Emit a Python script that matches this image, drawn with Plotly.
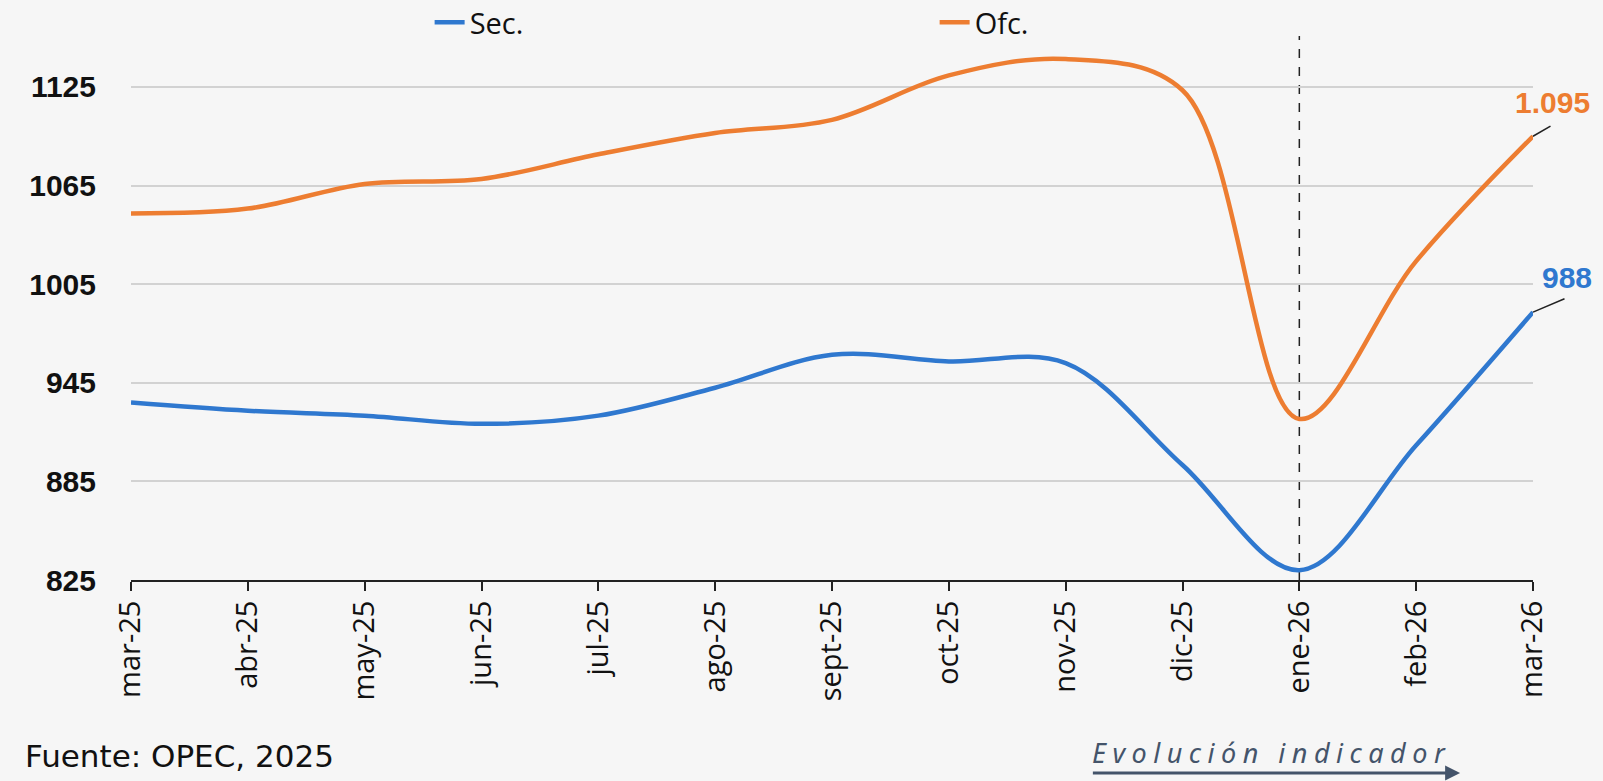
import plotly.graph_objects as go

months = ["mar-25", "abr-25", "may-25", "jun-25", "jul-25", "ago-25", "sept-25",
          "oct-25", "nov-25", "dic-25", "ene-26", "feb-26", "mar-26"]
sec = [933, 928, 925, 920, 925, 942, 962, 958, 957, 895, 831, 907, 988]
ofc = [1048, 1051, 1066, 1069, 1084, 1097, 1105, 1132, 1142, 1123, 923, 1019, 1095]
y_ticks = [825, 885, 945, 1005, 1065, 1125]

BLUE = "#2f78cf"
ORANGE = "#ed7d31"

fig = go.Figure()
fig.add_trace(go.Scatter(x=months, y=sec, name="Sec.", mode="lines",
                         line=dict(color=BLUE, width=4.5, shape="spline", smoothing=1)))
fig.add_trace(go.Scatter(x=months, y=ofc, name="Ofc.", mode="lines",
                         line=dict(color=ORANGE, width=4.5, shape="spline", smoothing=1)))

# dashed vertical marker
fig.add_shape(type="line", xref="x", yref="paper", x0=months[10], x1=months[10],
              y0=0, y1=1, line=dict(color="#222222", width=1.5, dash="dash"), layer="below")

# end labels: leader lines + value texts
for val, col, txt, lead, shift in [
    (ofc[-1], ORANGE, "<b>1.095</b>", (19, -11), (19, 34)),
    (sec[-1], BLUE, "<b>988</b>", (33, -14), (34, 35)),
]:
    fig.add_annotation(x=months[-1], y=val, text="", showarrow=True, arrowhead=0,
                       arrowwidth=1.5, arrowcolor="#222222", ax=lead[0], ay=lead[1])
    fig.add_annotation(x=months[-1], y=val, text=txt, showarrow=False,
                       xshift=shift[0], yshift=shift[1],
                       font=dict(family="Liberation Sans", size=30, color=col))

# footer texts
fig.add_annotation(xref="paper", yref="paper", x=-0.077, y=-0.324, xanchor="left", yanchor="middle",
                   text="Fuente: OPEC, 2025", showarrow=False,
                   font=dict(family="DejaVu Sans", size=31, color="#111111"))
fig.add_annotation(xref="paper", yref="paper", x=0.684, y=-0.318, xanchor="left", yanchor="middle",
                   text='<span style="letter-spacing:6.5px"><i>Evolución indicador</i></span>',
                   showarrow=False,
                   font=dict(family="Noto Sans", size=27, color="#44546a"))
fig.add_annotation(xref="x domain", yref="y domain", ax=0.685, ay=-0.355, x=0.948, y=-0.355,
                   axref="x domain", ayref="y domain", text="", showarrow=True,
                   arrowhead=2, arrowsize=1, arrowwidth=3, arrowcolor="#44546a")

fig.update_layout(
    width=1603, height=781,
    margin=dict(l=131, r=70, t=36, b=201, autoexpand=False),
    paper_bgcolor="#f6f6f6",
    plot_bgcolor="rgba(0,0,0,0)",
    showlegend=True,
    legend=dict(orientation="h", x=0.213, y=1.025, xanchor="left", yanchor="middle",
                entrywidth=460, entrywidthmode="pixels", bgcolor="rgba(0,0,0,0)",
                font=dict(family="Open Sans", size=29, color="#111111"), tracegroupgap=0),
    xaxis=dict(type="category", range=[0, 12], showgrid=False, showline=True,
               linecolor="#222222", linewidth=2, ticks="outside", ticklen=9, tickwidth=2,
               tickcolor="#222222", tickangle=-90, ticklabelstandoff=-2,
               tickfont=dict(family="Open Sans", size=29, color="#111111"),
               zeroline=False),
    yaxis=dict(range=[825, 1156], tickmode="array", tickvals=y_ticks,
               ticktext=[f"<b>{v}</b>" for v in y_ticks],
               showgrid=True, gridcolor="#d2d2d2", gridwidth=1.5, showline=False,
               zeroline=False, ticks="", ticklabelstandoff=34,
               tickfont=dict(family="Liberation Sans", size=30, color="#111111")),
)

fig.write_html("out.html", config={"displayModeBar": False},
               post_script="document.body.style.margin='0';document.body.style.overflow='hidden';")
